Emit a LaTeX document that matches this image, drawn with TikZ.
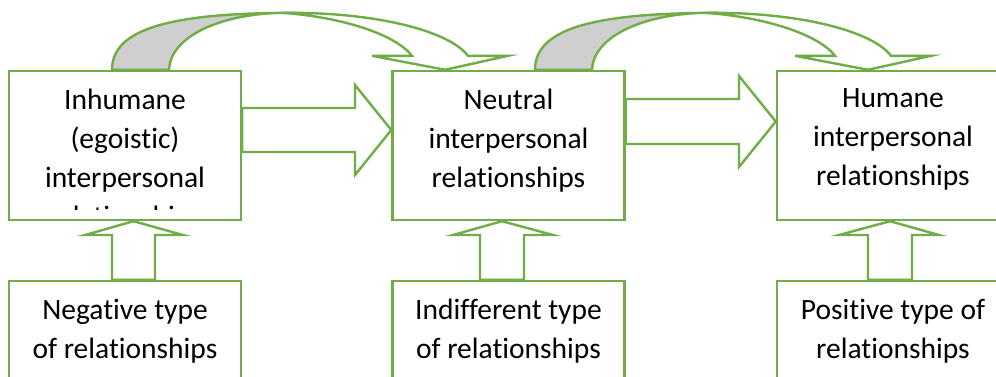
\documentclass[tikz,border=0pt]{standalone}
\usepackage{fontspec}
\setmainfont{Carlito}[Ligatures=NoCommon]
\usetikzlibrary{calc}
\definecolor{grn}{HTML}{70AD47}
\definecolor{backgray}{HTML}{CFCFCF}
\begin{document}
\begin{tikzpicture}[x=1pt,y=-1pt,
  box/.style={draw=grn, line width=2.4pt, fill=white, minimum width=232pt, minimum height=149pt, inner sep=0pt},
  lbl/.style={anchor=north, align=center, inner sep=0pt, font=\fontsize{29.5}{39}\selectfont, execute at begin node=\strut},
  arr/.style={draw=grn, line width=2.4pt, fill=white, line join=miter},
  backband/.style={draw=grn, line width=2.4pt, fill=backgray},
  curved/.pic={
    \draw[backband] (0,0) .. controls (0,-41) and (58,-57) .. (183,-57) -- (168,-57) .. controls (103,-55) and (58,-31) .. (57,0) -- cycle;
    \draw[arr] (178,-57) .. controls (268,-57) and (338,-38) .. (356,-14) -- (396,-14) -- (333,0) -- (260,-14) -- (300,-14) .. controls (283,-36) and (228,-53) .. (170,-57) -- cycle;
  }
]
\useasboundingbox (0,0) rectangle (996,376);
\clip (0,0) rectangle (996,376);

% boxes
\node[box] (b1) at (125,145.5) {};
\node[box] (b2) at (508.5,145.5) {};
\node[box] (b3) at (893,145.5) {};
\node[box] (b4) at (125,355.5) {};
\node[box] (b5) at (508.5,355.5) {};
\node[box] (b6) at (893,355.5) {};

% curved arrows on top
\pic at (b1.north -| 112,0) {curved};
\pic at (b2.north -| 535,0) {curved};

% horizontal block arrows
\draw[arr] (b1.east |- 0,108) -- (355,108) -- (355,85) -- (b2.west |- 0,130) -- (355,175) -- (355,152) -- (b1.east |- 0,152) -- cycle;
\draw[arr] (b2.east |- 0,99) -- (739,99) -- (739,76) -- (b3.west |- 0,121.5) -- (739,167) -- (739,144) -- (b2.east |- 0,144) -- cycle;

% upward block arrows
\draw[arr] (112,0 |- b4.north) -- (112,235) -- (85,235) -- (133.5,0 |- b1.south) -- (183,235) -- (155,235) -- (155,0 |- b4.north) -- cycle;
\draw[arr] (480,0 |- b5.north) -- (480,235) -- (453,235) -- (502,0 |- b2.south) -- (553,235) -- (524,235) -- (524,0 |- b5.north) -- cycle;
\draw[arr] (868,0 |- b6.north) -- (868,235) -- (839,235) -- (890,0 |- b3.south) -- (939,235) -- (912,235) -- (912,0 |- b6.north) -- cycle;

% texts
\begin{scope}
  \clip (b1.north west) rectangle (241,209.5);
  \node[lbl] (t1) at ($(b1.north)+(0,19)$) {Inhumane\\(egoistic)\\interpersonal\\relationships};
\end{scope}
\node[lbl] (t2) at ($(b2.north)+(0,19)$) {Neutral\\interpersonal\\relationships};
\node[lbl] (t3) at ($(b3.north)+(0,19)$) {Humane\\interpersonal\\relationships};
\node[lbl] (t4) at ($(b4.north)+(0,19)$) {Negative type\\of relationships};
\node[lbl] (t5) at ($(b5.north)+(0,19)$) {Indifferent type\\of relationships};
\node[lbl] (t6) at ($(b6.north)+(0,19)$) {Positive type of\\relationships};
\end{tikzpicture}
\end{document}
